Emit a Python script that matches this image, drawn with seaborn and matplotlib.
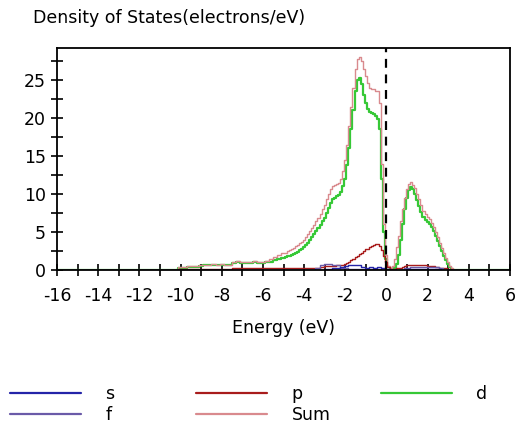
import numpy as np
import pandas as pd
import matplotlib
matplotlib.use("Agg")
import matplotlib.pyplot as plt
from matplotlib.ticker import MultipleLocator
import seaborn as sns

# rejilla de energia (eV): gruesa en los extremos, fina (0.1) cerca del nivel de fermi
e_bajo = np.round(np.arange(-16.0, -5.1, 0.2), 1)   # -16.0 ... -5.2
e_fino = np.round(np.arange(-5.0, 3.55, 0.1), 1)    # -5.0 ... 3.5
e_alto = np.round(np.arange(3.6, 6.01, 0.2), 1)     # 3.6 ... 6.0
energia = np.concatenate([e_bajo, e_fino, e_alto])

ceros_izq = [0.0] * 30   # -16.0 ... -10.2
ceros_der = [0.0] * 13   # 3.6 ... 6.0

# E = -10.0 ... -5.2 (paso 0.2)
d_bajo = [0.3, 0.3, 0.4, 0.4, 0.4, 0.5, 0.6, 0.6, 0.7, 0.6,
          0.7, 0.6, 0.6, 0.9, 1.0, 0.9, 0.9, 0.9, 1.0, 0.9,
          0.9, 1.0, 1.1, 1.3, 1.5]
sum_bajo = [0.4, 0.4, 0.5, 0.5, 0.5, 0.6, 0.7, 0.7, 0.8, 0.7,
            0.8, 0.7, 0.7, 1.1, 1.2, 1.1, 1.1, 1.1, 1.2, 1.1,
            1.1, 1.2, 1.4, 1.7, 2.0]
p_bajo = [0.1] * 13 + [0.2] * 12
s_bajo = [0.0] * 25
f_bajo = [0.0] * 25

# E = -5.0 ... 3.5 (paso 0.1)
d_fino = [1.6, 1.7, 1.8, 1.9, 2.0, 2.1, 2.3, 2.4, 2.6, 2.8,
          3.0, 3.3, 3.6, 4.0, 4.3, 4.7, 5.1, 5.5, 5.9, 6.4,
          6.9, 7.5, 8.1, 8.8, 9.3, 9.5, 9.7, 9.9, 10.2, 11.0,
          12.0, 13.8, 16.0, 18.5, 21.0, 23.5, 25.0, 25.3, 24.5, 23.0,
          22.0, 21.2, 20.8, 20.6, 20.5, 20.2, 19.8, 18.5, 12.0, 5.0,
          1.5, 0.4, 0.1, 0.1, 0.2, 0.8, 2.0, 4.0, 6.0, 8.0,
          9.5, 10.5, 10.9, 10.6, 10.0, 9.2, 8.4, 7.6, 7.0, 6.6,
          6.3, 6.0, 5.6, 5.1, 4.5, 3.8, 3.2, 2.5, 1.9, 1.3,
          0.8, 0.4, 0.1, 0.0, 0.0, 0.0]

sum_fino = [2.2, 2.3, 2.5, 2.6, 2.8, 2.9, 3.1, 3.3, 3.5, 3.7,
            4.0, 4.3, 4.7, 5.1, 5.5, 5.9, 6.4, 6.9, 7.4, 8.0,
            8.6, 9.3, 10.0, 10.7, 11.1, 11.2, 11.3, 11.5, 12.0, 13.0,
            14.5, 16.5, 19.0, 21.5, 24.0, 26.5, 27.8, 28.0, 27.5, 26.5,
            25.5, 24.6, 24.0, 23.8, 23.8, 23.6, 23.5, 22.0, 14.0, 6.0,
            2.0, 0.5, 0.2, 0.5, 1.5, 3.0, 4.5, 6.5, 8.0, 9.5,
            10.6, 11.3, 11.6, 11.2, 10.8, 10.0, 9.3, 8.5, 7.8, 7.4,
            7.0, 6.7, 6.2, 5.7, 5.0, 4.3, 3.6, 2.9, 2.3, 1.6,
            1.0, 0.5, 0.2, 0.0, 0.0, 0.0]

p_fino = [0.2, 0.2, 0.2, 0.2, 0.2, 0.2, 0.2, 0.2, 0.2, 0.2,
          0.2, 0.2, 0.2, 0.3, 0.3, 0.3, 0.3, 0.3, 0.4, 0.4,
          0.5, 0.5, 0.5, 0.5, 0.5, 0.5, 0.6, 0.6, 0.6, 0.7,
          0.8, 0.9, 1.1, 1.3, 1.5, 1.7, 1.9, 2.1, 2.3, 2.5,
          2.7, 2.8, 3.0, 3.2, 3.3, 3.4, 3.4, 3.2, 2.6, 1.8,
          1.0, 0.4, 0.1, 0.1, 0.1, 0.2, 0.2, 0.3, 0.4, 0.5,
          0.6, 0.7, 0.7, 0.7, 0.7, 0.7, 0.6, 0.6, 0.6, 0.6,
          0.5, 0.5, 0.5, 0.5, 0.4, 0.4, 0.3, 0.3, 0.2, 0.2,
          0.1, 0.1, 0.0, 0.0, 0.0, 0.0]

s_fino = [0.0, 0.0, 0.0, 0.0, 0.0, 0.0, 0.0, 0.0, 0.0, 0.0,
          0.0, 0.0, 0.0, 0.0, 0.0, 0.0, 0.0, 0.0, 0.0, 0.0,
          0.1, 0.1, 0.1, 0.1, 0.2, 0.2, 0.3, 0.3, 0.4, 0.4,
          0.5, 0.5, 0.6, 0.6, 0.6, 0.6, 0.6, 0.6, 0.4, 0.4,
          0.3, 0.3, 0.4, 0.4, 0.3, 0.3, 0.4, 0.4, 0.2, 0.2,
          0.1, 0.1, 0.0, 0.0, 0.0, 0.0, 0.0, 0.0, 0.0, 0.0,
          0.1, 0.1, 0.1, 0.1, 0.1, 0.1, 0.1, 0.1, 0.1, 0.1,
          0.1, 0.1, 0.1, 0.1, 0.1, 0.1, 0.1, 0.0, 0.0, 0.0,
          0.0, 0.0, 0.0, 0.0, 0.0, 0.0]

f_fino = [0.0, 0.0, 0.0, 0.0, 0.0, 0.0, 0.0, 0.0, 0.0, 0.0,
          0.0, 0.0, 0.0, 0.0, 0.0, 0.0, 0.3, 0.3, 0.6, 0.6,
          0.8, 0.8, 0.8, 0.8, 0.7, 0.7, 0.6, 0.6, 0.3, 0.3,
          0.2, 0.2, 0.1, 0.1, 0.1, 0.1, 0.1, 0.1, 0.1, 0.1,
          0.1, 0.1, 0.1, 0.1, 0.1, 0.1, 0.1, 0.1, 0.0, 0.0,
          0.0, 0.0, 0.0, 0.0, 0.0, 0.0, 0.0, 0.0, 0.0, 0.2,
          0.3, 0.3, 0.4, 0.4, 0.4, 0.4, 0.4, 0.4, 0.4, 0.4,
          0.4, 0.4, 0.4, 0.4, 0.4, 0.4, 0.3, 0.3, 0.0, 0.0,
          0.0, 0.0, 0.0, 0.0, 0.0, 0.0]

colores = {"s": "#2424a8", "f": "#6a5aa8", "p": "#a81c1c",
           "Sum": "#d98a8e", "d": "#36c836"}
grosor = {"s": 1.0, "f": 1.0, "p": 1.0, "Sum": 1.0, "d": 1.6}
series = {"d": d_bajo + d_fino, "Sum": sum_bajo + sum_fino,
          "p": p_bajo + p_fino, "f": f_bajo + f_fino, "s": s_bajo + s_fino}

sns.set_theme(style="white")
plt.rcParams["font.family"] = ["DejaVu Sans"]
plt.rcParams["axes.unicode_minus"] = False
plt.rcParams["text.color"] = "black"
plt.rcParams["axes.labelcolor"] = "black"
plt.rcParams["xtick.color"] = "black"
plt.rcParams["ytick.color"] = "black"
fs = 12.5

fig = plt.figure(figsize=(5.17, 4.32), dpi=100)
ax = fig.add_axes([57 / 517, 1 - 270 / 432, (510 - 57) / 517, (270 - 48) / 432])

lineas = {}
for nombre, vals in series.items():
    df = pd.DataFrame({"E": energia, "dos": ceros_izq + vals + ceros_der})
    sns.lineplot(data=df, x="E", y="dos", ax=ax, color=colores[nombre],
                 lw=grosor[nombre], drawstyle="steps-mid", legend=False)
    lineas[nombre] = ax.lines[-1]

# nivel de fermi
ax.axvline(0, color="black", ls=(0, (4, 3)), lw=1.6, zorder=5)

ax.set_xlim(-16, 6)
ax.set_ylim(0, 29.2)
ax.xaxis.set_major_locator(MultipleLocator(2))
ax.xaxis.set_minor_locator(MultipleLocator(1))
ax.yaxis.set_major_locator(MultipleLocator(5))
ax.yaxis.set_minor_locator(MultipleLocator(2.5))
ax.tick_params(which="both", direction="inout", length=8, width=1.2,
               color="black", labelsize=fs, bottom=True, left=True)
ax.tick_params(axis="x", which="major", pad=8)
ax.tick_params(axis="y", which="major", pad=4)
for sp in ax.spines.values():
    sp.set_color("black")
    sp.set_linewidth(1.3)

ax.set_xlabel("Energy (eV)", fontsize=fs, labelpad=10)
ax.set_ylabel("")
fig.text(33 / 517, 1 - 18 / 432, "Density of States(electrons/eV)",
         fontsize=fs, va="center", ha="left")

# leyenda en tres columnas debajo
grupos = [(["s", "f"], 10), (["p", "Sum"], 196), (["d"], 381)]
for nombres, x0 in grupos:
    leg = fig.legend([lineas[n] for n in nombres], nombres,
                     loc="upper left", bbox_to_anchor=(x0 / 517, 1 - 385 / 432),
                     frameon=False, fontsize=fs, handlelength=4.1,
                     handletextpad=1.4, labelspacing=0.15,
                     borderpad=0, borderaxespad=0)
    for h in leg.legend_handles:
        h.set_linewidth(1.6)

fig.savefig("out.png", dpi=100)
plt.close(fig)
